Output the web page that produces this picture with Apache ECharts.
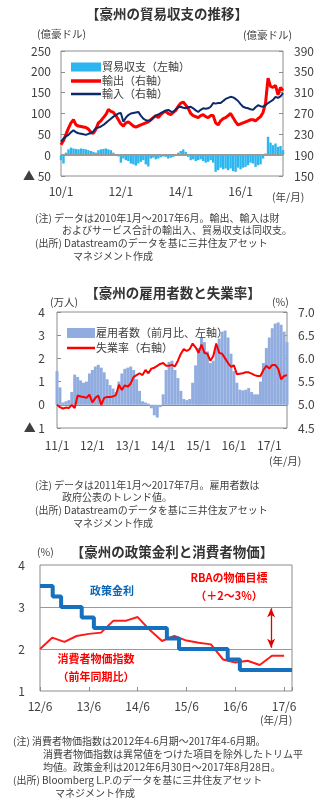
<!DOCTYPE html>
<html><head><meta charset="utf-8">
<script src="https://cdn.jsdelivr.net/npm/echarts@6/dist/echarts.min.js"></script>
<style>html,body{margin:0;padding:0;background:#fff;}#c{width:333px;height:809px;}</style>
</head><body><div id="c"></div>
<script>
const FONT = '"Noto Sans CJK JP", "Noto Sans", sans-serif';
const TXT = '#404040';
const BORDER = '#8c8c8c';

// ---------- Chart 1: trade balance (monthly 2010/1 - 2017/6) ----------
const tradeTickLabels = ['10/1', '12/1', '14/1', '16/1'];
const tradeBalance = [
  -12,-20,6,14,18,16,15,14,16,15,14,12,
  10,8,6,12,14,15,16,14,12,6,2,-3,
  -18,-8,-12,-14,-20,-22,-25,-20,-16,-12,-22,-27,
  -8,-6,-10,-8,-5,-3,-4,-8,-6,-4,-2,6,
  10,14,8,-4,-12,-10,-14,-12,-10,-14,-18,-16,
  -12,-18,-40,-36,-30,-34,-32,-36,-32,-38,-40,-30,
  -34,-30,-28,-24,-18,-20,-28,-24,-22,-8,4,44,
  30,24,28,20,22,12
];
const tradeExports = [
  210,218,230,242,252,258,248,246,245,244,243,240,
  234,232,240,252,256,262,268,278,274,272,266,258,
  250,246,252,254,250,246,244,246,248,250,252,254,
  258,262,266,262,268,272,274,270,268,272,276,284,
  290,292,286,280,270,266,264,262,266,268,264,262,
  266,266,252,248,256,260,262,266,270,262,254,248,
  250,252,254,256,258,258,256,260,264,272,290,338,
  322,320,324,306,320,314
];
const tradeImports = [
  216,222,226,229,234,238,234,232,231,230,229,231,
  232,236,242,243,245,248,252,256,260,264,267,270,
  271,254,262,267,270,271,272,273,266,260,257,256,
  257,262,266,268,271,273,276,277,274,273,278,282,
  283,281,280,282,283,280,276,273,277,280,279,280,
  283,290,289,290,290,294,298,300,302,301,298,294,
  288,283,281,280,278,277,282,286,284,283,286,290,
  293,296,302,300,303,309
];

// ---------- Chart 2: employment & unemployment (monthly 2011/1 - 2017/7) ----------
const jobTickLabels = ['11/1','12/1','13/1','14/1','15/1','16/1','17/1'];
const employmentChange = [
  1.45,0.75,0.1,0.15,0.2,0.55,1.3,1.2,1.05,0.95,1.0,1.35,
  1.5,1.65,1.72,1.6,1.4,1.1,0.85,0.7,0.55,1.0,1.35,1.55,
  1.6,1.65,1.5,1.1,0.6,0.15,0.1,0.05,-0.15,-0.45,-0.55,-0.1,
  0.45,1.5,1.85,1.9,1.5,1.15,0.6,0.25,0.2,0.25,0.95,1.7,
  2.45,2.9,2.7,2.3,1.8,1.9,2.45,2.85,3.15,3.2,2.9,2.2,
  1.45,0.95,0.65,0.62,0.65,0.72,0.55,0.45,0.45,1.0,1.8,2.45,
  2.9,3.3,3.5,3.55,3.45,3.15,2.7
];
const unemploymentRate = [
  5.0,4.95,4.92,4.94,4.93,5.0,4.93,5.2,5.18,5.17,5.15,5.22,
  5.05,5.15,5.2,5.0,5.15,5.17,5.17,5.18,5.21,5.43,5.32,5.42,
  5.39,5.46,5.6,5.64,5.68,5.64,5.75,5.68,5.78,5.8,5.84,5.88,
  5.9,5.84,5.84,5.86,5.83,5.95,6.1,6.2,6.16,6.2,6.32,6.24,
  6.12,6.3,6.12,6.1,5.95,6.05,6.32,6.12,6.1,6.0,5.9,5.82,
  5.85,5.66,5.67,5.68,5.7,5.7,5.67,5.64,5.62,5.62,5.75,5.84,
  5.78,5.86,5.86,5.78,5.55,5.62,5.64
];

// ---------- Chart 3: policy rate & CPI ----------
const rateTickLabels = ['12/6','13/6','14/6','15/6','16/6','17/6'];
const policyDates = ['2012-06-30','2012-10-03','2012-12-05','2013-05-08','2013-08-07','2015-02-04','2015-05-06','2016-05-04','2016-08-03','2017-08-28'];
const policyRates = [3.5,3.25,3.0,2.75,2.5,2.25,2.0,1.75,1.5,1.5];
const cpiQuarters = ['2012-06-30','2012-09-30','2012-12-31','2013-03-31','2013-06-30','2013-09-30','2013-12-31','2014-03-31','2014-06-30','2014-09-30','2014-12-31','2015-03-31','2015-06-30','2015-09-30','2015-12-31','2016-03-31','2016-06-30','2016-09-30','2016-12-31','2017-03-31','2017-06-30'];
const cpiValues = [2.0,2.27,2.17,2.31,2.36,2.39,2.67,2.67,2.76,2.45,2.19,2.31,2.2,2.15,2.11,1.75,1.68,1.72,1.62,1.84,1.84];
const rbaTarget = [2, 3];

function monthCats(y, m, n) {
  const out = [];
  for (let i = 0; i < n; i++) {
    const yy = y + Math.floor((m - 1 + i) / 12);
    const mm = (m - 1 + i) % 12 + 1;
    out.push(String(yy % 100).padStart(2, '0') + '/' + mm);
  }
  return out;
}
const tradeCats = monthCats(2010, 1, tradeBalance.length);
const jobCats = monthCats(2011, 1, employmentChange.length);
const base = Date.parse('2012-06-30');
const toMonths = s => (Date.parse(s) - base) / (86400000 * 365.25 / 12);
const policyData = policyDates.map((d, i) => [toMonths(d), policyRates[i]]);
const cpiData = cpiQuarters.map((d, i) => [Math.round(toMonths(d)), cpiValues[i]]);
const rateMax = toMonths(policyDates[policyDates.length - 1]);

const lbl = (extra) => Object.assign({ color: TXT, fontFamily: FONT, fontSize: 12 }, extra || {});
const tick = { show: true, inside: true, length: 4, lineStyle: { color: BORDER } };
const dots = { symbol: 'circle', symbolSize: 0.5, color: 'rgba(255,255,255,0.35)', dashArrayX: [2, 0], dashArrayY: [2, 0], rotation: 0 };

function T(x, y, text, o) {
  o = o || {};
  return {
    type: 'text', x: x, y: y, silent: true, z: 100,
    style: {
      text: text, fill: o.fill || TXT, fontFamily: FONT,
      fontSize: o.size || 10, fontWeight: o.bold ? 'bold' : 'normal',
      align: o.align || 'left', verticalAlign: 'middle',
      stroke: o.stroke || null, lineWidth: o.stroke ? 3 : 0
    }
  };
}
function LG(left, top, name, w, h) {
  return { orient: 'vertical', left: left, top: top, itemWidth: w, itemHeight: h, icon: 'rect',
    textStyle: { fontSize: 11, color: TXT, fontFamily: FONT, lineHeight: 12, padding: [0, 0, 0, -4] },
    data: [{ name: name, icon: 'rect' }] };
}

const chart = echarts.init(document.getElementById('c'), null, { renderer: 'canvas' });
chart.setOption({
  backgroundColor: '#fff',
  animation: false,
  textStyle: { fontFamily: FONT },
  grid: [
    { left: 61, top: 51, width: 222, height: 125, show: true, borderColor: BORDER, borderWidth: 1, backgroundColor: 'transparent' },
    { left: 57, top: 312, width: 230, height: 116, show: true, borderColor: BORDER, borderWidth: 1, backgroundColor: 'transparent' },
    { left: 40, top: 565, width: 252, height: 126, show: true, borderColor: BORDER, borderWidth: 1, backgroundColor: 'transparent' }
  ],
  legend: [
    LG(66, 56, '貿易収支（左軸）', 30, 9),
    LG(66, 70, '輸出（右軸）', 30, 3.5),
    LG(66, 83, '輸入（右軸）', 30, 2.5),
    LG(62, 322, '雇用者数（前月比、左軸）', 28, 10),
    LG(62, 337, '失業率（右軸）', 28, 2.5)
  ],
  xAxis: [
    { type: 'category', gridIndex: 0, data: tradeCats, boundaryGap: false,
      axisLine: { show: false }, axisTick: { show: false },
      axisLabel: lbl({ interval: 23, margin: 9, formatter: (v, i) => tradeTickLabels[i / 24] || '' }),
      splitLine: { show: false } },
    { type: 'category', gridIndex: 1, data: jobCats, boundaryGap: false,
      axisLine: { show: false }, axisTick: { show: false },
      axisLabel: lbl({ interval: 11, margin: 11, formatter: (v, i) => jobTickLabels[i / 12] || '' }),
      splitLine: { show: false } },
    { type: 'value', gridIndex: 2, min: 0, max: rateMax, interval: 12,
      axisLine: { show: false }, axisTick: tick,
      axisLabel: lbl({ margin: 9, formatter: v => (Math.abs(v % 12) < 1e-6 ? (rateTickLabels[Math.round(v / 12)] || '') : '') }),
      splitLine: { show: false } },
    { type: 'category', gridIndex: 1, data: jobCats, boundaryGap: false, position: 'bottom', offset: -23.2,
      axisLine: { show: true, onZero: false, lineStyle: { color: BORDER, width: 1 } },
      axisTick: Object.assign({ interval: 11 }, tick),
      axisLabel: { show: false }, splitLine: { show: false } }
  ],
  yAxis: [
    { type: 'value', gridIndex: 0, position: 'left', min: -50, max: 250, interval: 50,
      axisLine: { show: false }, axisTick: tick, splitLine: { show: false },
      axisLabel: lbl({ margin: 10, formatter: v => v < 0 ? '▲ ' + (-v) : String(v) }) },
    { type: 'value', gridIndex: 0, position: 'right', min: 150, max: 390, interval: 40,
      axisLine: { show: false }, axisTick: tick, splitLine: { show: false },
      axisLabel: lbl({ margin: 11 }) },
    { type: 'value', gridIndex: 1, position: 'left', min: -1, max: 4, interval: 1,
      axisLine: { show: false }, axisTick: tick, splitLine: { show: false },
      axisLabel: lbl({ margin: 12, formatter: v => v < 0 ? '▲ ' + (-v) : String(v) }) },
    { type: 'value', gridIndex: 1, position: 'right', min: 4.5, max: 7, interval: 0.5,
      axisLine: { show: false }, axisTick: tick, splitLine: { show: false },
      axisLabel: lbl({ margin: 11, formatter: v => v.toFixed(1) }) },
    { type: 'value', gridIndex: 2, position: 'left', min: 1, max: 4, interval: 1,
      axisLine: { show: false }, axisTick: { show: false }, splitLine: { show: false },
      axisLabel: lbl({ margin: 15 }) }
  ],
  series: [
    { name: '貿易収支（左軸）', type: 'bar', xAxisIndex: 0, yAxisIndex: 0, data: tradeBalance,
      barCategoryGap: '5%', clip: true, itemStyle: { color: '#1fb1ef', decal: dots },
      markLine: { silent: true, symbol: 'none', label: { show: false },
        lineStyle: { color: '#9a9a9a', width: 2, type: 'solid' }, data: [{ yAxis: 0 }] } },
    { name: '輸出（右軸）', type: 'line', xAxisIndex: 0, yAxisIndex: 1, data: tradeExports,
      symbol: 'none', lineStyle: { color: '#ff0000', width: 3 }, itemStyle: { color: '#ff0000' } },
    { name: '輸入（右軸）', type: 'line', xAxisIndex: 0, yAxisIndex: 1, data: tradeImports,
      symbol: 'none', lineStyle: { color: '#0b2a6b', width: 2 }, itemStyle: { color: '#0b2a6b' } },
    { name: '雇用者数（前月比、左軸）', type: 'bar', xAxisIndex: 1, yAxisIndex: 2, data: employmentChange,
      barCategoryGap: '0%', clip: true, itemStyle: { color: '#8aa7dc', decal: dots } },
    { name: '失業率（右軸）', type: 'line', xAxisIndex: 1, yAxisIndex: 3, data: unemploymentRate,
      symbol: 'none', lineStyle: { color: '#ff0000', width: 2 }, itemStyle: { color: '#ff0000' } },
    { name: '政策金利', type: 'line', xAxisIndex: 2, yAxisIndex: 4, data: policyData, step: 'end',
      symbol: 'none', lineStyle: { color: '#1570bd', width: 4 }, itemStyle: { color: '#1570bd' }, z: 3 },
    { name: '消費者物価指数', type: 'line', xAxisIndex: 2, yAxisIndex: 4, data: cpiData,
      symbol: 'none', lineStyle: { color: '#ff1a1a', width: 2 }, itemStyle: { color: '#ff1a1a' }, z: 2,
      markLine: { silent: true, symbol: 'none', label: { show: false }, z: 1,
        lineStyle: { color: '#e87878', width: 1, type: 'solid' },
        data: [
          { yAxis: rbaTarget[1] }, { yAxis: rbaTarget[0] },
          [ { coord: [56.8, rbaTarget[1] - 0.03], symbol: 'arrow', symbolSize: [6, 9], lineStyle: { color: '#e00000', width: 1.3 } },
            { coord: [56.8, rbaTarget[0] + 0.03], symbol: 'arrow', symbolSize: [6, 9] } ]
        ] } }
  ],
  graphic: [
    T(167, 14, '【豪州の貿易収支の推移】', { size: 13.5, bold: true, align: 'center', fill: '#333' }),
    T(37, 34, '(億豪ドル)', { size: 10.5 }),
    T(243, 35, '(億豪ドル)', { size: 10.5 }),
    T(272, 197, '(年/月)', { size: 10.5 }),
    T(35, 218, '(注) データは2010年1月～2017年6月。輸出、輸入は財'),
    T(62, 230, 'およびサービス合計の輸出入、貿易収支は同収支。'),
    T(35, 243, '(出所) Datastreamのデータを基に三井住友アセット'),
    T(73, 256, 'マネジメント作成'),

    T(173, 293, '【豪州の雇用者数と失業率】', { size: 13.5, bold: true, align: 'center', fill: '#333' }),
    T(50, 302, '(万人)', { size: 10.5 }),
    T(272, 302, '(%)', { size: 10.5 }),
    T(269, 461, '(年/月)', { size: 10.5 }),
    T(35, 485, '(注) データは2011年1月～2017年7月。雇用者数は'),
    T(62, 497, '政府公表のトレンド値。'),
    T(35, 510, '(出所) Datastreamのデータを基に三井住友アセット'),
    T(73, 523, 'マネジメント作成'),

    T(172, 552, '【豪州の政策金利と消費者物価】', { size: 13.5, bold: true, align: 'center', fill: '#333' }),
    T(37, 552, '(%)', { size: 10.5 }),
    T(90, 591, '政策金利', { size: 11, bold: true, fill: '#0a66b8', stroke: '#fff' }),
    T(229, 578, 'RBAの物価目標', { size: 11, bold: true, fill: '#ff0000', align: 'center' }),
    T(229, 596, '（＋2～3%）', { size: 11, bold: true, fill: '#ff0000', align: 'center' }),
    T(96, 659, '消費者物価指数', { size: 11, bold: true, fill: '#ff0000', align: 'center' }),
    T(96, 677, '（前年同期比）', { size: 11, bold: true, fill: '#ff0000', align: 'center' }),
    T(260, 720, '(年/月)', { size: 10.5 }),
    T(13, 741, '(注) 消費者物価指数は2012年4-6月期～2017年4-6月期。'),
    T(43, 754, '消費者物価指数は異常値をつけた項目を除外したトリム平'),
    T(43, 767, '均値。政策金利は2012年6月30日～2017年8月28日。'),
    T(13, 780, '(出所) Bloomberg L.P.のデータを基に三井住友アセット'),
    T(55, 793, 'マネジメント作成')
  ]
});
</script>
</body></html>
